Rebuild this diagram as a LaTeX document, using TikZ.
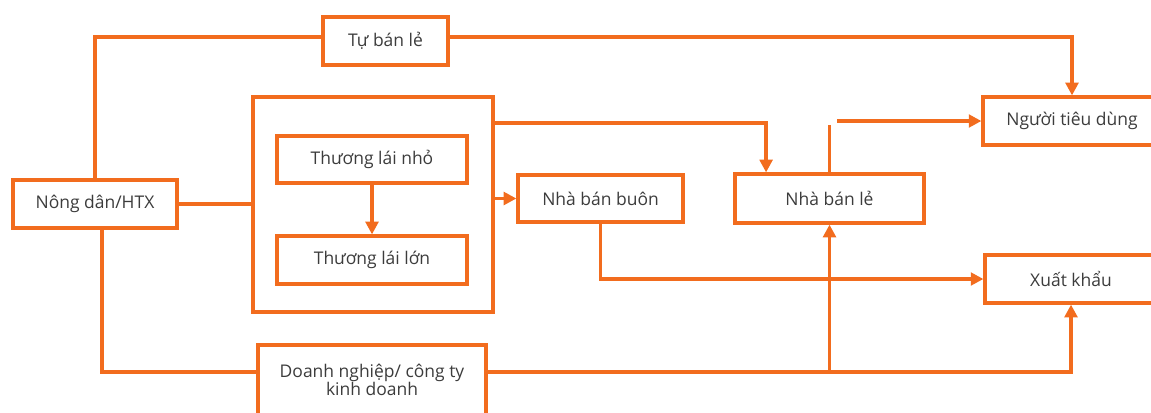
\documentclass[tikz,border=0pt]{standalone}
\usepackage{fontspec}
\setmainfont{Open Sans}
\usetikzlibrary{arrows.meta,calc}
\definecolor{org}{RGB}{242,108,30}
\definecolor{txt}{RGB}{60,60,60}
\begin{document}
\begin{tikzpicture}[x=0.75pt,y=-0.75pt,
  box/.style={draw=org,line width=2.4pt,rectangle,inner sep=0pt,fill=white,
    text=txt,font=\fontsize{13.1pt}{16pt}\selectfont,align=center},
  bw/.style={minimum width=0.75*#1 pt},
  bh/.style={minimum height=0.75*#1 pt},
  con/.style={draw=org,line width=2.4pt},
  arr/.style={con,-{Triangle[length=9.5pt,width=9.5pt]}}]
\useasboundingbox (0,0) rectangle (1151,412);
\begin{scope}
\clip (0,0) rectangle (1151,412);
\node[box,bw=125,bh=48] (tu) at (385.5,41) {Tự bán lẻ};
\node[box,bw=164,bh=48] (nd) at (95,204) {Nông dân/HTX};
\node[box,bw=240,bh=215] (outer) at (373,204.5) {};
\node[box,bw=190,bh=47] (tn) at (372,159.5) {Thương lái nhỏ};
\node[box,bw=190,bh=48] (tl) at (372,260) {Thương lái lớn};
\node[box,bw=165,bh=47] (bb) at (600.5,198.5) {Nhà bán buôn};
\node[box,bw=189,bh=49] (nbl) at (829.5,198.5) {Nhà bán lẻ};
\node[box,bw=178,bh=48] (ntd) at (1072,121) {Người tiêu dùng};
\node[box,bw=172,bh=48] (xk) at (1071,279) {Xuất khẩu};
\node[box,bw=228,bh=70] (dn) at (372,380) {Doanh nghiệp/ công ty\\[-3pt]kinh doanh};
% connectors
\draw[con] (nd.north) |- (tu.west |- 0,37);
\draw[arr] (tu.east |- 0,37) -| (ntd.north);
\draw[con] (nd.east) -- (nd.east -| outer.west);
\draw[arr] (tn.south) -- (tl.north);
\coordinate (nblin) at ($(nbl.north west)!0.17!(nbl.north east)$);
\draw[arr] (outer.east |- 0,123) -| (nblin);
\draw[arr] (outer.east |- bb.west) -- (bb.west);
\draw[con] (nbl.north) -- (nbl.north |- 0,125);
\draw[arr] (ntd.west -| 837,0) -- (ntd.west);
\draw[arr] (bb.south) |- (xk.west);
\draw[con] (nd.south -| 102,0) |- (dn.west |- 0,372);
\draw[arr] (dn.east |- 0,372) -| (xk.south);
\draw[arr] (nbl.south |- 0,372) -- (nbl.south);
\end{scope}
\end{tikzpicture}
\end{document}
